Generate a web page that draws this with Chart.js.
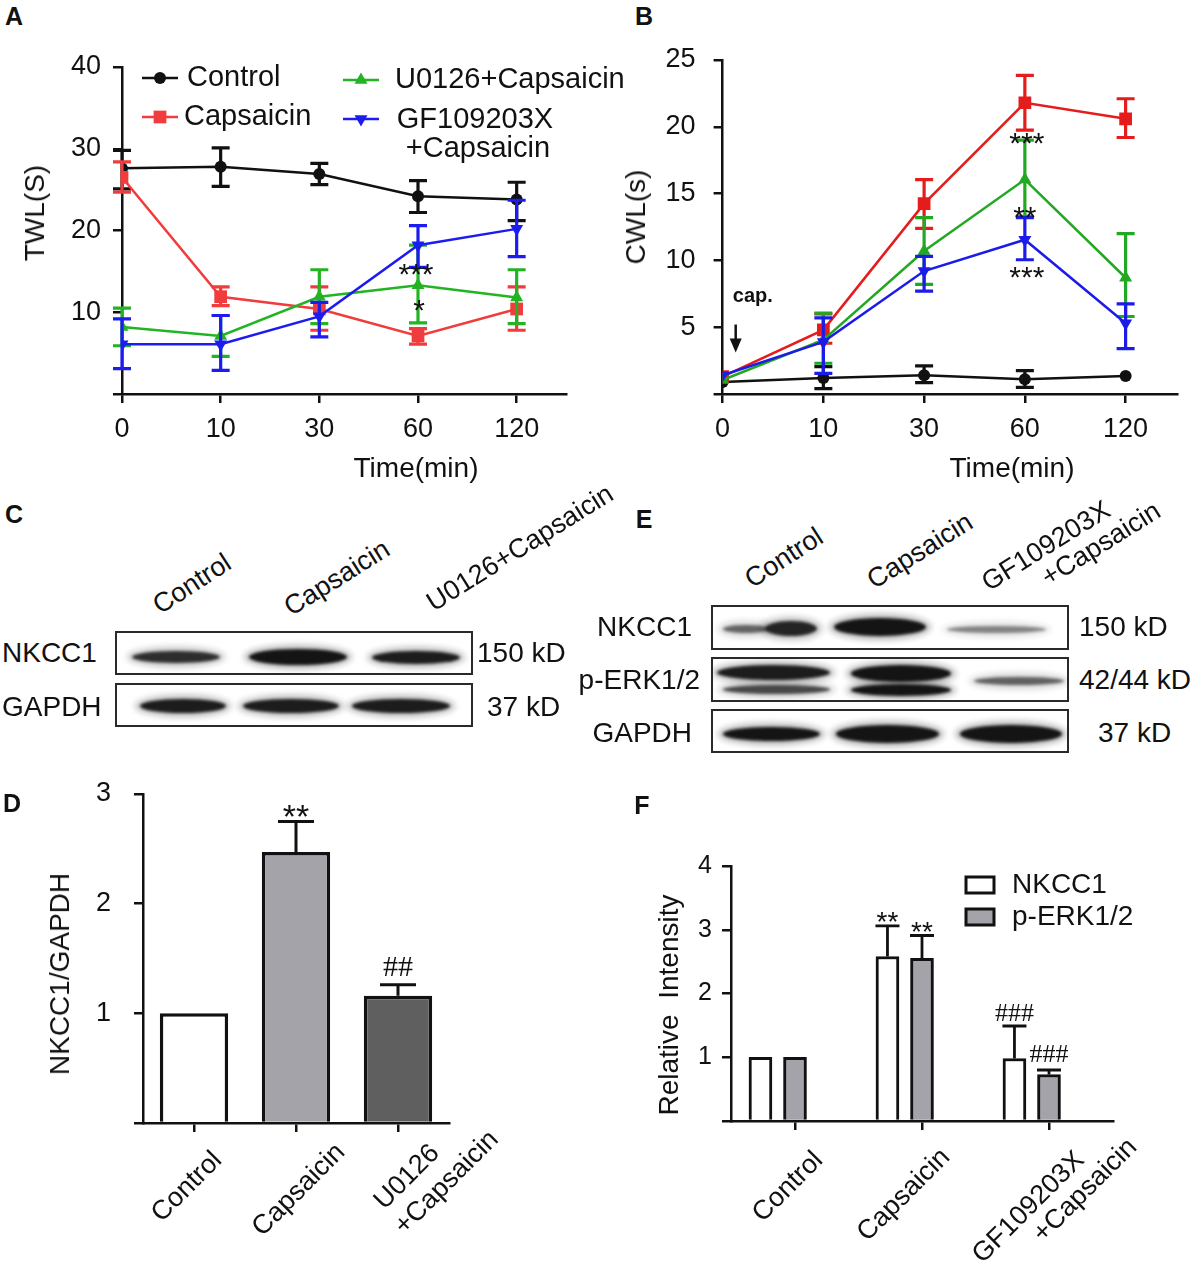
<!DOCTYPE html>
<html>
<head>
<title>NKCC1 / capsaicin figure</title>
<script src="https://cdn.jsdelivr.net/npm/chart.js@4.4.1/dist/chart.umd.min.js"></script>
<style>
  body { margin: 0; background: #fff; }
  #fig { position: relative; width: 1200px; height: 1271px; overflow: hidden; background: #fff;
         font-family: "Liberation Sans", Arial, Helvetica, sans-serif; color: #111; }
  #fig canvas { position: absolute; }
  .t { position: absolute; white-space: pre; line-height: 1; font-size: 28px; }
  .box { position: absolute; box-sizing: border-box; border: 2px solid #2a2a2a; background: #fff; overflow: hidden; }
  .band { position: absolute; border-radius: 50%; background: #141414; }
</style>
</head>
<body>
<div id="fig"></div>

<script>
// ---------------- data ----------------
const timeLabels = ['0', '10', '30', '60', '120'];

// A: thermal withdrawal latency, TWL (s)
const twlControl   = [27.6, 27.8, 26.9, 24.2, 23.8];
const twlControlLo = [25.1, 25.4, 25.6, 22.2, 21.2];
const twlControlHi = [29.8, 30.1, 28.2, 26.1, 25.9];
const twlCap       = [26.5, 11.9, 10.4, 7.1, 10.4];
const twlCapLo     = [24.7, 10.8, 7.8, 6.1, 7.8];
const twlCapHi     = [28.4, 13.1, 13.1, 8.0, 13.1];
const twlU0126     = [8.2, 7.1, 11.9, 13.3, 11.8];
const twlU0126Lo   = [5.9, 4.6, 8.6, 8.7, 8.6];
const twlU0126Hi   = [10.5, 9.6, 15.2, 18.2, 15.2];
const twlGF        = [6.1, 6.1, 9.5, 18.2, 20.2];
const twlGFLo      = [3.1, 2.9, 7.0, 15.5, 16.8];
const twlGFHi      = [9.2, 9.6, 11.2, 20.6, 23.7];

// B: cold withdrawal latency, CWL (s)
const cwlControl   = [0.9, 1.2, 1.4, 1.1, 1.35];
const cwlControlLo = [null, 0.4, 0.85, 0.5, null];
const cwlControlHi = [null, 2.05, 2.1, 1.75, null];
const cwlCap       = [1.3, 4.8, 14.25, 21.8, 20.6];
const cwlCapLo     = [null, 3.8, 12.4, 19.75, 19.2];
const cwlCapHi     = [null, 6.0, 16.05, 23.85, 22.1];
const cwlU0126     = [1.05, 4.05, 10.7, 16.05, 8.7];
const cwlU0126Lo   = [null, 2.3, 8.2, 13.3, 5.8];
const cwlU0126Hi   = [null, 6.05, 13.2, 19.0, 12.0];
const cwlGF        = [1.4, 3.9, 9.2, 11.55, 5.3];
const cwlGFLo      = [null, 1.55, 7.7, 10.05, 3.4];
const cwlGFHi      = [null, 5.7, 10.3, 13.2, 6.75];

// D: NKCC1/GAPDH
const dGroups  = [['Control'], ['Capsaicin'], ['U0126', '+Capsaicin']];
const dRatio   = [1.0, 2.47, 1.16];
const dRatioHi = [null, 2.75, 1.26];

// F: relative intensity
const fGroups  = [['Control'], ['Capsaicin'], ['GF109203X', '+Capsaicin']];
const fNkcc1   = [1.0, 2.58, 0.98];
const fNkcc1Hi = [null, 3.06, 1.49];
const fPerk    = [1.0, 2.55, 0.73];
const fPerkHi  = [null, 2.91, 0.80];

// blot band darkness per lane
const cNkcc1Dark = [0.85, 1.0, 0.95];
const cGapdhDark = [0.95, 0.95, 0.95];
const eNkcc1Dark = [0.9, 1.0, 0.45];
const ePerkDark  = [0.95, 1.0, 0.6];
const eGapdhDark = [1.0, 1.0, 1.0];

// ---------------- helpers ----------------
const FONT = '"Liberation Sans", Arial, Helvetica, sans-serif';
const SERIF = '"Liberation Serif", "Times New Roman", serif';
Chart.defaults.font.family = FONT;
Chart.defaults.color = '#111';

const fig = document.getElementById('fig');

function makeCanvas(left, top, w, h) {
  const c = document.createElement('canvas');
  c.width = w; c.height = h;
  c.style.left = left + 'px'; c.style.top = top + 'px';
  c.style.width = w + 'px'; c.style.height = h + 'px';
  fig.appendChild(c);
  return c;
}

// text centred on (cx, cy)
function txt(s, cx, cy, size, rot, bold) {
  const d = document.createElement('div');
  d.className = 't';
  d.textContent = s;
  d.style.left = cx + 'px'; d.style.top = cy + 'px';
  d.style.fontSize = size + 'px';
  if (bold) d.style.fontWeight = 'bold';
  d.style.transform = 'translate(-50%,-50%) rotate(' + (rot || 0) + 'deg)';
  fig.appendChild(d);
}
function txtL(s, x, cy, size) {
  const d = document.createElement('div');
  d.className = 't'; d.textContent = s;
  d.style.left = x + 'px'; d.style.top = cy + 'px'; d.style.fontSize = size + 'px';
  d.style.transform = 'translate(0,-50%)';
  fig.appendChild(d);
}
function txtR(s, x, cy, size) {
  const d = document.createElement('div');
  d.className = 't'; d.textContent = s;
  d.style.left = x + 'px'; d.style.top = cy + 'px'; d.style.fontSize = size + 'px';
  d.style.transform = 'translate(-100%,-50%)';
  fig.appendChild(d);
}

function lineSet(label, vals, lo, hi, color, style, r, rot, order) {
  return {
    label: label,
    data: vals.map((v, i) => ({ x: i, y: v })),
    errLo: lo, errHi: hi,
    borderColor: color, backgroundColor: color,
    pointBackgroundColor: color, pointBorderColor: color, pointBorderWidth: 0,
    borderWidth: 2.5, pointStyle: style, pointRadius: r, pointRotation: rot,
    tension: 0, order: order
  };
}

function baseOptions(pad) {
  return {
    responsive: false, animation: false, events: [],
    layout: { padding: pad, autoPadding: false },
    plugins: { legend: { display: false }, tooltip: { enabled: false } }
  };
}

function axisGrid(tl) {
  return { display: true, drawOnChartArea: false, drawTicks: true, tickLength: tl,
           color: '#111', lineWidth: 2.5, offset: false };
}

function yScale(max, list, width, pad, size) {
  return {
    min: 0, max: max,
    afterBuildTicks: s => { s.ticks = list.map(v => ({ value: v })); },
    afterFit: s => { s.width = width; s.paddingTop = 0; s.paddingBottom = 0; },
    ticks: { callback: v => (v === 0 ? '' : String(v)), padding: pad, font: { size: size }, color: '#111' },
    grid: axisGrid(9),
    border: { display: true, color: '#111', width: 2.5 }
  };
}

function timeScale(max, height) {
  return {
    type: 'linear', min: 0, max: max,
    afterBuildTicks: s => { s.ticks = timeLabels.map((_, i) => ({ value: i })); },
    afterFit: s => { s.height = height; s.paddingLeft = 0; s.paddingRight = 0; },
    ticks: { callback: v => timeLabels[v], padding: 10, font: { size: 27 }, color: '#111',
             maxRotation: 0, autoSkip: false },
    grid: axisGrid(9),
    border: { display: true, color: '#111', width: 2.5 }
  };
}

// error bars from dataset errLo / errHi, drawn through the y scale
function errorBars(capW, lw) {
  return {
    id: 'errorBars',
    afterDatasetDraw(chart, args) {
      const ds = chart.data.datasets[args.index];
      if (!ds.errHi) return;
      const ctx = chart.ctx, ys = chart.scales.y, h = capW / 2;
      ctx.save();
      ctx.strokeStyle = ds.errColor || ds.borderColor;
      ctx.lineWidth = lw;
      args.meta.data.forEach((el, j) => {
        const hi = ds.errHi[j];
        if (hi == null) return;
        const yHi = ys.getPixelForValue(hi);
        const yLo = ds.errLo ? ys.getPixelForValue(ds.errLo[j]) : el.y;
        ctx.beginPath();
        ctx.moveTo(el.x, yLo); ctx.lineTo(el.x, yHi);
        ctx.moveTo(el.x - h, yHi); ctx.lineTo(el.x + h, yHi);
        if (ds.errLo) { ctx.moveTo(el.x - h, yLo); ctx.lineTo(el.x + h, yLo); }
        ctx.stroke();
      });
      ctx.restore();
    }
  };
}

// significance marks placed at a dataset element and a y value
function sigMarks(items) {
  return {
    id: 'sigMarks',
    afterDatasetsDraw(chart) {
      const ctx = chart.ctx, ys = chart.scales.y;
      ctx.save();
      ctx.fillStyle = '#111'; ctx.textAlign = 'center'; ctx.textBaseline = 'alphabetic';
      items.forEach(m => {
        const el = chart.getDatasetMeta(m.ds).data[m.i];
        ctx.font = (m.bold ? 'bold ' : '') + m.size + 'px ' + (m.serif ? SERIF : FONT);
        const k = m.text.charAt(0) === '*' ? 0.6 : 0.34;
        ctx.fillText(m.text, el.x + (m.dx || 0), ys.getPixelForValue(m.y) + k * m.size);
      });
      ctx.restore();
    }
  };
}

function drawMarker(ctx, style, r, rot, x, y) {
  if (Chart.helpers && Chart.helpers.drawPoint) {
    Chart.helpers.drawPoint(ctx, { pointStyle: style, radius: r, rotation: rot, borderWidth: 0 }, x, y);
    return;
  }
  ctx.beginPath();
  if (style === 'circle') ctx.arc(x, y, r, 0, Math.PI * 2);
  else if (style === 'rect') { const s = r * Math.SQRT1_2; ctx.rect(x - s, y - s, 2 * s, 2 * s); }
  else {
    const d = rot ? -1 : 1;
    ctx.moveTo(x, y - d * r); ctx.lineTo(x + r * 0.87, y + d * r * 0.5); ctx.lineTo(x - r * 0.87, y + d * r * 0.5);
    ctx.closePath();
  }
  ctx.fill();
}

function lineLegend(items, size) {
  return {
    id: 'lineLegend',
    afterDraw(chart) {
      const ctx = chart.ctx;
      ctx.save();
      items.forEach(it => {
        const ds = chart.data.datasets[it.ds];
        ctx.strokeStyle = ds.borderColor; ctx.lineWidth = ds.borderWidth;
        ctx.beginPath(); ctx.moveTo(it.x, it.y); ctx.lineTo(it.x + 36, it.y); ctx.stroke();
        ctx.fillStyle = ds.borderColor;
        drawMarker(ctx, ds.pointStyle, ds.pointRadius, ds.pointRotation, it.x + 18, it.y);
        ctx.fillStyle = '#111'; ctx.font = size + 'px ' + FONT; ctx.textBaseline = 'middle';
        it.lines.forEach(l => { ctx.textAlign = l.align || 'left'; ctx.fillText(l.t, l.x, l.y); });
      });
      ctx.restore();
    }
  };
}

function boxLegend(items, size) {
  return {
    id: 'boxLegend',
    afterDraw(chart) {
      const ctx = chart.ctx;
      ctx.save();
      items.forEach(it => {
        const ds = chart.data.datasets[it.ds];
        ctx.fillStyle = ds.backgroundColor; ctx.fillRect(it.x, it.y, 28, 16);
        ctx.strokeStyle = '#111'; ctx.lineWidth = 3; ctx.strokeRect(it.x, it.y, 28, 16);
        ctx.fillStyle = '#111'; ctx.font = size + 'px ' + FONT;
        ctx.textAlign = 'left'; ctx.textBaseline = 'middle';
        ctx.fillText(ds.label, it.x + 46, it.y + 8);
      });
      ctx.restore();
    }
  };
}

// rotated category labels centred under each tick
function rotLabels(groups, layout, size) {
  return {
    id: 'rotLabels',
    afterDraw(chart) {
      const ctx = chart.ctx, xs = chart.scales.x, base = chart.chartArea.bottom;
      ctx.save();
      ctx.font = size + 'px ' + FONT; ctx.fillStyle = '#111';
      ctx.textAlign = 'center'; ctx.textBaseline = 'middle';
      groups.forEach((lines, i) => {
        const L = layout[i];
        ctx.save();
        ctx.translate(xs.getPixelForTick(i) + L.dx, base + L.dy);
        ctx.rotate(-Math.PI / 4);
        lines.forEach((t, k) => ctx.fillText(t, L.a[k], L.p[k]));
        ctx.restore();
      });
      ctx.restore();
    }
  };
}

function capArrow(o) {
  return {
    id: 'capArrow',
    afterDraw(chart) {
      const ctx = chart.ctx, xs = chart.scales.x, ys = chart.scales.y;
      const x = xs.getPixelForValue(o.x), y0 = ys.getPixelForValue(o.from), y1 = ys.getPixelForValue(o.to);
      ctx.save();
      ctx.strokeStyle = '#111'; ctx.fillStyle = '#111'; ctx.lineWidth = 2.5;
      ctx.beginPath(); ctx.moveTo(x, y0); ctx.lineTo(x, y1 - 10); ctx.stroke();
      ctx.beginPath(); ctx.moveTo(x - 6, y1 - 14); ctx.lineTo(x + 6, y1 - 14); ctx.lineTo(x, y1); ctx.closePath(); ctx.fill();
      ctx.font = 'bold 20px ' + FONT; ctx.textAlign = 'center'; ctx.textBaseline = 'middle';
      ctx.fillText(o.text, xs.getPixelForValue(o.textX), ys.getPixelForValue(o.textY));
      ctx.restore();
    }
  };
}

// ---------------- panel A ----------------
new Chart(makeCanvas(0, 40, 640, 440), {
  type: 'line',
  data: { datasets: [
    lineSet('Control', twlControl, twlControlLo, twlControlHi, '#111111', 'circle', 6, 0, 3),
    lineSet('Capsaicin', twlCap, twlCapLo, twlCapHi, '#f03c3c', 'rect', 9, 0, 2),
    lineSet('U0126+Capsaicin', twlU0126, twlU0126Lo, twlU0126Hi, '#22b422', 'triangle', 7.5, 0, 1),
    lineSet('GF109203X+Capsaicin', twlGF, twlGFLo, twlGFHi, '#1c1cf0', 'triangle', 7.5, 180, 0)
  ] },
  options: Object.assign(baseOptions({ top: 27, right: 74, left: 0, bottom: 0 }), {
    scales: { x: timeScale(4.5, 86), y: yScale(40, [0, 10, 20, 30, 40], 122, 12, 27) }
  }),
  plugins: [
    errorBars(18, 3.2),
    sigMarks([
      { ds: 3, i: 3, y: 15.7, text: '***', size: 30, dx: -2 },
      { ds: 3, i: 3, y: 11.3, text: '*', size: 30, dx: 1 }
    ]),
    lineLegend([
      { ds: 0, x: 142, y: 38, lines: [{ t: 'Control', x: 187, y: 38 }] },
      { ds: 1, x: 142, y: 77, lines: [{ t: 'Capsaicin', x: 184, y: 77 }] },
      { ds: 2, x: 343, y: 40, lines: [{ t: 'U0126+Capsaicin', x: 395, y: 40 }] },
      { ds: 3, x: 343, y: 79, lines: [{ t: 'GF109203X', x: 475, y: 80, align: 'center' },
                                      { t: '+Capsaicin', x: 478, y: 109, align: 'center' }] }
    ], 29)
  ]
});

// ---------------- panel B ----------------
new Chart(makeCanvas(600, 30, 600, 450), {
  type: 'line',
  data: { datasets: [
    lineSet('Control', cwlControl, cwlControlLo, cwlControlHi, '#111111', 'circle', 6, 0, 3),
    lineSet('Capsaicin', cwlCap, cwlCapLo, cwlCapHi, '#e41c1c', 'rect', 9, 0, 2),
    lineSet('U0126+Capsaicin', cwlU0126, cwlU0126Lo, cwlU0126Hi, '#22a822', 'triangle', 7.5, 0, 1),
    lineSet('GF109203X+Capsaicin', cwlGF, cwlGFLo, cwlGFHi, '#1c1ce8', 'triangle', 7.5, 180, 0)
  ] },
  options: Object.assign(baseOptions({ top: 30, right: 23, left: 0, bottom: 0 }), {
    scales: { x: timeScale(4.51, 86), y: yScale(25, [0, 5, 10, 15, 20, 25], 122.6, 18, 27) }
  }),
  plugins: [
    errorBars(18, 3.2),
    sigMarks([
      { ds: 1, i: 3, y: 19.4, text: '***', size: 30, dx: 2 },
      { ds: 2, i: 3, y: 13.85, text: '**', size: 30, dx: 0 },
      { ds: 3, i: 3, y: 9.35, text: '***', size: 30, dx: 2 }
    ]),
    capArrow({ x: 0.13, from: 5.2, to: 3.1, textX: 0.3, textY: 7.3, text: 'cap.' })
  ]
});

// ---------------- panel D ----------------
new Chart(makeCanvas(0, 770, 560, 501), {
  type: 'bar',
  data: {
    labels: dGroups.map(g => g.join(' ')),
    datasets: [{
      label: 'NKCC1/GAPDH', data: dRatio, errHi: dRatioHi, errColor: '#111',
      backgroundColor: ['#ffffff', '#a3a3a9', '#5f5f5f'], borderColor: '#111', borderWidth: 3.5,
      barPercentage: 0.67, categoryPercentage: 1
    }]
  },
  options: Object.assign(baseOptions({ top: 24, right: 111, left: 0, bottom: 0 }), {
    scales: {
      x: { offset: true, afterFit: s => { s.height = 148; s.paddingLeft = 0; s.paddingRight = 0; },
           ticks: { display: false },
           grid: axisGrid(9), border: { display: true, color: '#111', width: 2.5 } },
      y: yScale(3, [0, 1, 2, 3], 143, 23, 27)
    }
  }),
  plugins: [
    errorBars(36, 3),
    sigMarks([
      { ds: 0, i: 1, y: 2.88, text: '**', size: 34 },
      { ds: 0, i: 2, y: 1.43, text: '##', size: 30, serif: true }
    ]),
    rotLabels(dGroups, [
      { dx: -7, dy: 64, a: [0], p: [0] },
      { dx: 3, dy: 67, a: [0], p: [0] },
      { dx: 29, dy: 57, a: [-12, 12], p: [-16, 16] }
    ], 27)
  ]
});

// ---------------- panel F ----------------
new Chart(makeCanvas(600, 770, 600, 501), {
  type: 'bar',
  data: { datasets: [
    { label: 'NKCC1', data: fNkcc1.map((v, i) => ({ x: i - 0.272, y: v })), errHi: fNkcc1Hi, errColor: '#111',
      backgroundColor: '#ffffff', borderColor: '#111', borderWidth: 3, barThickness: 23, grouped: false },
    { label: 'p-ERK1/2', data: fPerk.map((v, i) => ({ x: i, y: v })), errHi: fPerkHi, errColor: '#111',
      backgroundColor: '#a3a3a9', borderColor: '#111', borderWidth: 3, barThickness: 23, grouped: false }
  ] },
  options: Object.assign(baseOptions({ top: 96, right: 87, left: 0, bottom: 0 }), {
    scales: {
      x: { type: 'linear', min: -0.504, max: 2.504, offset: false,
           afterBuildTicks: s => { s.ticks = fGroups.map((_, i) => ({ value: i })); },
           afterFit: s => { s.height = 150; s.paddingLeft = 0; s.paddingRight = 0; },
           ticks: { display: false },
           grid: axisGrid(9), border: { display: true, color: '#111', width: 2.5 } },
      y: yScale(4, [0, 1, 2, 3, 4], 131, 10, 25)
    }
  }),
  plugins: [
    errorBars(24, 2.8),
    sigMarks([
      { ds: 0, i: 1, y: 3.25, text: '**', size: 28 },
      { ds: 1, i: 1, y: 3.08, text: '**', size: 28 },
      { ds: 0, i: 2, y: 1.70, text: '###', size: 26, serif: true },
      { ds: 1, i: 2, y: 1.07, text: '###', size: 26, serif: true }
    ]),
    boxLegend([{ ds: 0, x: 366, y: 107 }, { ds: 1, x: 366, y: 139 }], 28),
    rotLabels(fGroups, [
      { dx: -7, dy: 66, a: [0], p: [0] },
      { dx: -18, dy: 74, a: [0], p: [0] },
      { dx: 8, dy: 78, a: [-26, 26], p: [-14, 14] }
    ], 27)
  ]
});

// ---------------- blots (C, E) ----------------
function blotBox(x, y, w, h, bands) {
  const b = document.createElement('div');
  b.className = 'box';
  b.style.left = x + 'px'; b.style.top = y + 'px';
  b.style.width = w + 'px'; b.style.height = h + 'px';
  bands.forEach(([x0, x1, cy, t, d]) => {
    const halo = document.createElement('div');
    halo.className = 'band';
    halo.style.left = (x0 - 5) + 'px'; halo.style.top = (cy - t / 2 - 4) + 'px';
    halo.style.width = (x1 - x0 + 10) + 'px'; halo.style.height = (t + 8) + 'px';
    halo.style.opacity = d * 0.3; halo.style.filter = 'blur(3px)';
    b.appendChild(halo);
    const core = document.createElement('div');
    core.className = 'band';
    core.style.left = x0 + 'px'; core.style.top = (cy - t / 2) + 'px';
    core.style.width = (x1 - x0) + 'px'; core.style.height = t + 'px';
    core.style.opacity = d; core.style.filter = 'blur(1.4px)';
    b.appendChild(core);
  });
  fig.appendChild(b);
}

// C
blotBox(115, 631, 358, 44, [
  [15, 103, 24, 12, cNkcc1Dark[0]], [132, 230, 24, 16, cNkcc1Dark[1]], [255, 343, 24, 13, cNkcc1Dark[2]]
]);
blotBox(115, 683, 358, 44, [
  [23, 109, 21, 14, cGapdhDark[0]], [126, 222, 21, 14, cGapdhDark[1]], [235, 333, 21, 14, cGapdhDark[2]]
]);
// E
blotBox(711, 605, 358, 45, [
  [10, 56, 22, 8, eNkcc1Dark[0] * 0.65], [52, 104, 21, 15, eNkcc1Dark[0]],
  [121, 213, 20, 18, eNkcc1Dark[1]], [234, 333, 22, 7, eNkcc1Dark[2]]
]);
blotBox(711, 657, 358, 45, [
  [4, 117, 13, 15, ePerkDark[0]], [10, 117, 30, 9, ePerkDark[0] * 0.75],
  [138, 238, 14, 17, ePerkDark[1]], [138, 238, 31, 12, ePerkDark[1]],
  [261, 351, 22, 8, ePerkDark[2]]
]);
blotBox(711, 709, 358, 44, [
  [10, 107, 23, 14, eGapdhDark[0]], [123, 226, 23, 18, eGapdhDark[1]], [247, 349, 23, 18, eGapdhDark[2]]
]);

// ---------------- text ----------------
txt('A', 14, 16, 25, 0, true);
txt('B', 644, 16, 25, 0, true);
txt('C', 14, 514, 25, 0, true);
txt('D', 12, 803, 25, 0, true);
txt('E', 644, 519, 25, 0, true);
txt('F', 642, 805, 25, 0, true);

txt('TWL(S)', 35, 213, 28, -90);
txt('Time(min)', 416, 468, 28);
txt('CWL(s)', 636, 217, 28, -90);
txt('Time(min)', 1012, 468, 28);
txt('NKCC1/GAPDH', 60, 974, 28, -90);
txt('Relative  Intensity', 669, 1005, 28, -90);

// C labels
txt('Control', 192, 584, 27, -33);
txt('Capsaicin', 337, 578, 27, -32);
txt('U0126+Capsaicin', 520, 548, 27, -32);
txtL('NKCC1', 2, 653, 28);
txtL('GAPDH', 2, 707, 28);
txtL('150 kD', 477, 653, 28);
txtL('37 kD', 487, 707, 28);

// E labels
txt('Control', 784, 558, 27, -33);
txt('Capsaicin', 920, 551, 27, -32);
txt('GF109203X', 1046, 546, 27, -32);
txt('+Capsaicin', 1101, 544, 27, -32);
txtR('NKCC1', 692, 627, 28);
txtR('p-ERK1/2', 700, 680, 28);
txtR('GAPDH', 692, 733, 28);
txtL('150 kD', 1079, 627, 28);
txtL('42/44 kD', 1079, 680, 28);
txtL('37 kD', 1098, 733, 28);
</script>
</body>
</html>
